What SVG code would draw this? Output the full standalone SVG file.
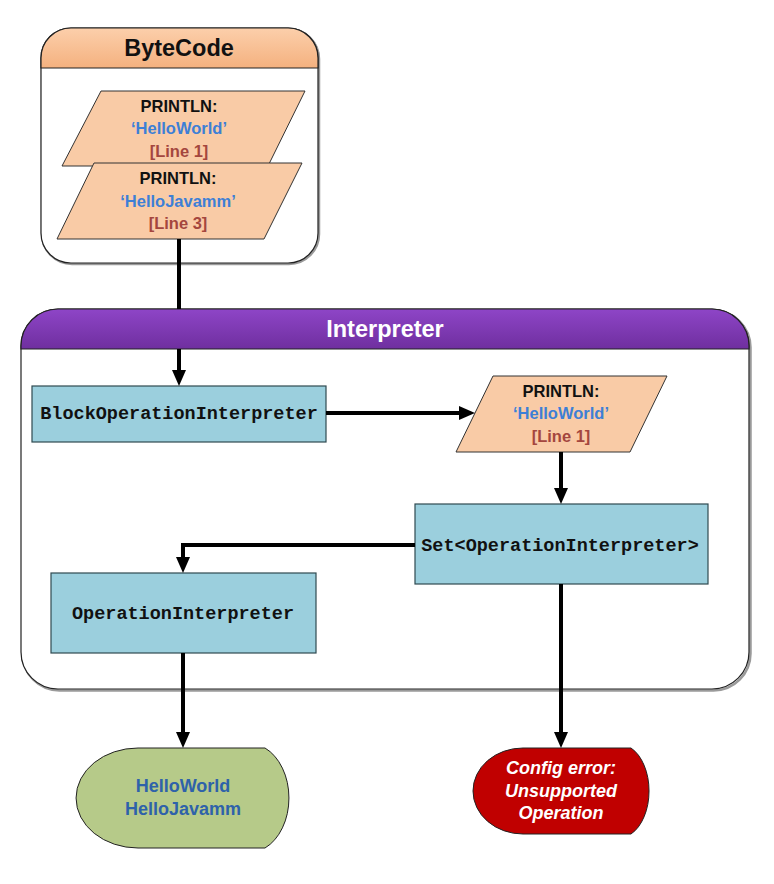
<svg xmlns="http://www.w3.org/2000/svg" width="774" height="884" viewBox="0 0 774 884">
  <defs>
    <linearGradient id="gOrange" x1="0" y1="0" x2="0" y2="1">
      <stop offset="0" stop-color="#fccfab"/>
      <stop offset="1" stop-color="#f4b17f"/>
    </linearGradient>
    <linearGradient id="gPurple" x1="0" y1="0" x2="0" y2="1">
      <stop offset="0" stop-color="#8e45c7"/>
      <stop offset="1" stop-color="#6f2f9f"/>
    </linearGradient>
    <marker id="arrow" markerUnits="userSpaceOnUse" markerWidth="16" markerHeight="14" refX="8" refY="7" orient="auto" viewBox="0 0 16 14">
      <path d="M0,0 L16,7 L0,14 Z" fill="#000"/>
    </marker>
    <style>
      .container { fill: #ffffff; stroke: #222; stroke-width: 1.2; }
      .shadow { fill: none; stroke: #9a9a9a; stroke-width: 2.5; }
      .title { font-family: "Liberation Sans", Arial, sans-serif; font-weight: bold; font-size: 23.5px; text-anchor: middle; }
      .para { fill: #f9cba6; stroke: #333; stroke-width: 1; }
      .box { fill: #9bcfdd; stroke: #2f4a50; stroke-width: 1.2; }
      .pt { font-family: "Liberation Sans", Arial, sans-serif; font-weight: bold; font-size: 16.5px; text-anchor: middle; }
      .k { fill: #111; }
      .b { fill: #3d7fd6; }
      .r { fill: #a4463e; }
      .mono { font-family: "Liberation Mono", "Courier New", monospace; font-weight: bold; font-size: 18.5px; fill: #111; text-anchor: middle; }
      .conn { fill: none; stroke: #000; stroke-width: 4; }
      .out { font-family: "Liberation Sans", Arial, sans-serif; font-weight: bold; font-size: 18px; text-anchor: middle; }
    </style>
  </defs>

  <g id="bytecode">
    <rect class="shadow" x="42" y="29" width="277" height="235" rx="30"/>
    <rect class="container" x="41" y="28" width="277" height="235" rx="30"/>
    <path d="M41,68 V58 A30,30 0 0 1 71,28 H288 A30,30 0 0 1 318,58 V68 Z" fill="url(#gOrange)" stroke="#222" stroke-width="1.2"/>
    <text class="title" x="179" y="56" fill="#111">ByteCode</text>
  </g>

  <g id="interpreter">
    <rect class="shadow" x="22.5" y="310.5" width="728" height="380" rx="37"/>
    <rect class="container" x="21" y="309" width="728" height="380" rx="37"/>
    <path d="M21,349 V346 A37,37 0 0 1 58,309 H712 A37,37 0 0 1 749,346 V349 Z" fill="url(#gPurple)" stroke="#222" stroke-width="1.2"/>
    <text class="title" x="385" y="337" fill="#ffffff">Interpreter</text>
  </g>

  <g id="println1">
    <polygon class="para" points="101,91 305,91 268,166 62,166"/>
    <text class="pt k" x="179" y="112">PRINTLN:</text>
    <text class="pt b" x="179" y="134">‘HelloWorld’</text>
    <text class="pt r" x="179" y="157">[Line 1]</text>
  </g>

  <g id="println3">
    <polygon class="para" points="94,163 302,163 264,239 57,239"/>
    <text class="pt k" x="178" y="184">PRINTLN:</text>
    <text class="pt b" x="178" y="207">‘HelloJavamm’</text>
    <text class="pt r" x="178" y="229">[Line 3]</text>
  </g>

  <g id="blockOperationInterpreter">
    <rect class="box" x="32" y="386" width="294" height="56"/>
    <text class="mono" x="179" y="419">BlockOperationInterpreter</text>
  </g>

  <g id="println1b">
    <polygon class="para" points="493,376 667,376 630,452 456,452"/>
    <text class="pt k" x="561" y="397">PRINTLN:</text>
    <text class="pt b" x="561" y="419">‘HelloWorld’</text>
    <text class="pt r" x="561" y="442">[Line 1]</text>
  </g>

  <g id="setOperationInterpreter">
    <rect class="box" x="415" y="504" width="293" height="80"/>
    <text class="mono" x="560" y="551">Set&lt;OperationInterpreter&gt;</text>
  </g>

  <g id="operationInterpreter">
    <rect class="box" x="51" y="573" width="265" height="80"/>
    <text class="mono" x="183" y="619">OperationInterpreter</text>
  </g>

  <g id="outputOk">
    <path d="M138,748 H265 A40,54.6 0 0 1 265,848 H138 A62,50 0 0 1 138,748 Z" fill="#b6ca89" stroke="#222" stroke-width="1"/>
    <text class="out" x="183" y="792" fill="#2e62aa">HelloWorld</text>
    <text class="out" x="183" y="815" fill="#2e62aa">HelloJavamm</text>
  </g>

  <g id="outputError">
    <path d="M523,748 H631 A30,46.9 0 0 1 631,834 H523 A50,43 0 0 1 523,748 Z" fill="#c00000" stroke="#222" stroke-width="1"/>
    <text class="out" x="561" y="774" fill="#ffffff" font-style="italic">Config error:</text>
    <text class="out" x="561" y="797" fill="#ffffff" font-style="italic">Unsupported</text>
    <text class="out" x="561" y="819" fill="#ffffff" font-style="italic">Operation</text>
  </g>

  <g id="connectors">
    <path class="conn" d="M179,239 V309 M179,349 V378" marker-end="url(#arrow)"/>
    <path class="conn" d="M326,413 H467" marker-end="url(#arrow)"/>
    <path class="conn" d="M561,452 V496" marker-end="url(#arrow)"/>
    <path class="conn" d="M415,545 H183 V565" marker-end="url(#arrow)"/>
    <path class="conn" d="M561,584 V740" marker-end="url(#arrow)"/>
    <path class="conn" d="M183,653 V740" marker-end="url(#arrow)"/>
  </g>
</svg>
